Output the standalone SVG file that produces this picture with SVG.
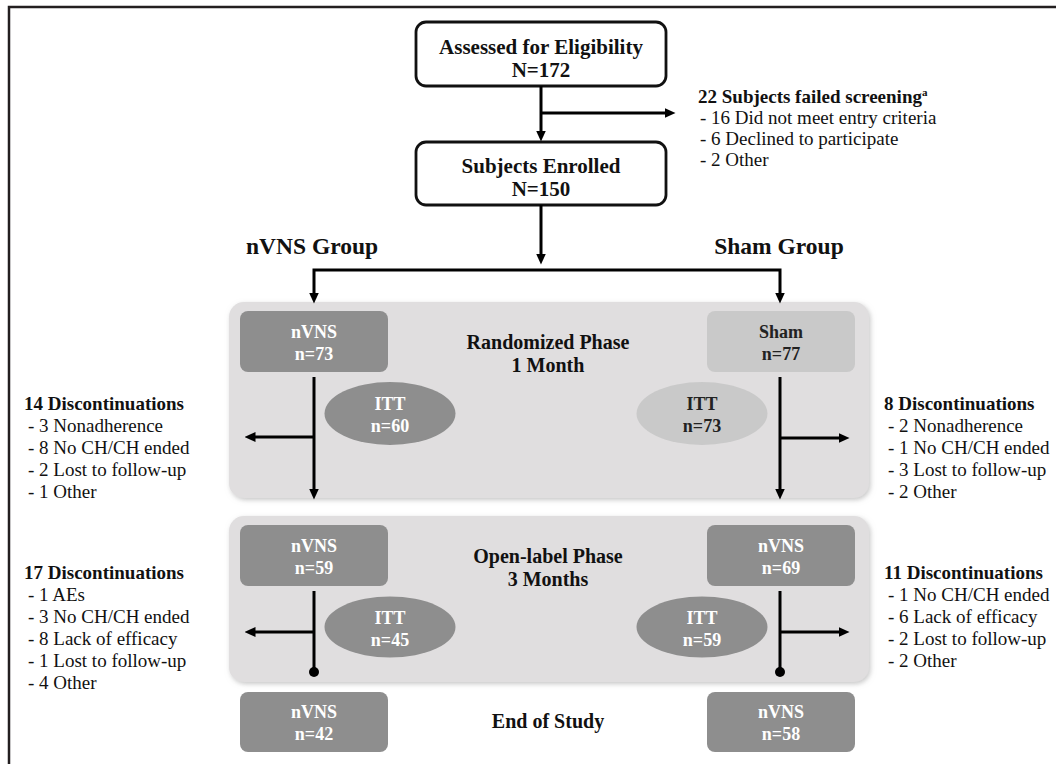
<svg xmlns="http://www.w3.org/2000/svg" width="1056" height="764" viewBox="0 0 1056 764">
<style>
text{font-family:"Liberation Serif","Times New Roman",serif;fill:#111}
.b{font-weight:bold}
.box{fill:#fff;stroke:#111;stroke-width:2.8}
.bt{font-size:21px;font-weight:bold;text-anchor:middle}
.panel{fill:#e0dedf}
.dk{fill:#8e8e8e}
.lt{fill:#c9c9c9}
.gt{font-size:18px;font-weight:bold;text-anchor:middle;fill:#fff}
.gd{font-size:18px;font-weight:bold;text-anchor:middle;fill:#222}
.grp{font-size:23.5px;font-weight:bold;text-anchor:middle}
.ph{font-size:20px;font-weight:bold;text-anchor:middle}
.s{font-size:19px}
.ln{fill:none;stroke:#000;stroke-width:3}
</style>
<defs>
<marker id="ah" viewBox="0 0 11 10" refX="0.5" refY="5" markerWidth="11" markerHeight="10" markerUnits="userSpaceOnUse" orient="auto">
<path d="M0,0 L11,5 L0,10 z" fill="#000"/>
</marker>
<filter id="sh" x="-5%" y="-10%" width="110%" height="120%">
<feDropShadow dx="1.5" dy="2" stdDeviation="2.5" flood-color="#9a9a9a" flood-opacity="0.55"/>
</filter>
</defs>
<path d="M9,764 V7 H1056" fill="none" stroke="#231f20" stroke-width="2.5"/>
<g id="panel-randomized">
<rect class="panel" x="229" y="302" width="640" height="196" rx="15" filter="url(#sh)"/>
<text class="ph" x="548" y="349">Randomized Phase</text>
<text class="ph" x="548" y="372">1 Month</text>
</g>
<g id="panel-openlabel">
<rect class="panel" x="229" y="516" width="640" height="166" rx="15" filter="url(#sh)"/>
<text class="ph" x="548" y="563">Open-label Phase</text>
<text class="ph" x="548" y="586">3 Months</text>
</g>
<g id="assessed">
<rect class="box" x="416" y="22" width="250" height="64" rx="10"/>
<text class="bt" x="541" y="54">Assessed for Eligibility</text>
<text class="bt" x="541" y="77">N=172</text>
</g>
<g id="failed">
<text class="s b" x="698" y="103">22 Subjects failed screening<tspan font-size="11" dy="-7">a</tspan></text>
<text class="s" x="700" y="124">- 16 Did not meet entry criteria</text>
<text class="s" x="700" y="145">- 6 Declined to participate</text>
<text class="s" x="700" y="166">- 2 Other</text>
</g>
<g id="enrolled">
<rect class="box" x="416" y="142" width="250" height="63" rx="10"/>
<text class="bt" x="541" y="173">Subjects Enrolled</text>
<text class="bt" x="541" y="196">N=150</text>
</g>
<g id="group-labels">
<text class="grp" x="312" y="254">nVNS Group</text>
<text class="grp" x="779" y="254">Sham Group</text>
</g>
<g id="nvns-73">
<rect class="dk" x="240" y="311" width="148" height="61" rx="8"/>
<text class="gt" x="314" y="338">nVNS</text>
<text class="gt" x="314" y="360">n=73</text>
</g>
<g id="sham-77">
<rect class="lt" x="707" y="311" width="148" height="61" rx="8"/>
<text class="gd" x="781" y="338">Sham</text>
<text class="gd" x="781" y="360">n=77</text>
</g>
<g id="itt-60">
<ellipse class="dk" cx="390" cy="413.5" rx="65.5" ry="31.5"/>
<text class="gt" x="390" y="410">ITT</text>
<text class="gt" x="390" y="432">n=60</text>
</g>
<g id="itt-73">
<ellipse class="lt" cx="702" cy="413.5" rx="65.5" ry="31.5"/>
<text class="gd" x="702" y="410">ITT</text>
<text class="gd" x="702" y="432">n=73</text>
</g>
<g id="disc-14">
<text class="s b" x="24" y="410">14 Discontinuations</text>
<text class="s" x="28" y="432">- 3 Nonadherence</text>
<text class="s" x="28" y="454">- 8 No CH/CH ended</text>
<text class="s" x="28" y="476">- 2 Lost to follow-up</text>
<text class="s" x="28" y="498">- 1 Other</text>
</g>
<g id="disc-8">
<text class="s b" x="884" y="410">8 Discontinuations</text>
<text class="s" x="888" y="432">- 2 Nonadherence</text>
<text class="s" x="888" y="454">- 1 No CH/CH ended</text>
<text class="s" x="888" y="476">- 3 Lost to follow-up</text>
<text class="s" x="888" y="498">- 2 Other</text>
</g>
<g id="nvns-59">
<rect class="dk" x="240" y="525" width="148" height="61" rx="8"/>
<text class="gt" x="314" y="552">nVNS</text>
<text class="gt" x="314" y="574">n=59</text>
</g>
<g id="nvns-69">
<rect class="dk" x="707" y="525" width="148" height="61" rx="8"/>
<text class="gt" x="781" y="552">nVNS</text>
<text class="gt" x="781" y="574">n=69</text>
</g>
<g id="itt-45">
<ellipse class="dk" cx="390" cy="627" rx="65.5" ry="30.5"/>
<text class="gt" x="390" y="624">ITT</text>
<text class="gt" x="390" y="646">n=45</text>
</g>
<g id="itt-59">
<ellipse class="dk" cx="702" cy="627" rx="65.5" ry="30.5"/>
<text class="gt" x="702" y="624">ITT</text>
<text class="gt" x="702" y="646">n=59</text>
</g>
<g id="disc-17">
<text class="s b" x="24" y="579">17 Discontinuations</text>
<text class="s" x="28" y="601">- 1 AEs</text>
<text class="s" x="28" y="623">- 3 No CH/CH ended</text>
<text class="s" x="28" y="645">- 8 Lack of efficacy</text>
<text class="s" x="28" y="667">- 1 Lost to follow-up</text>
<text class="s" x="28" y="689">- 4 Other</text>
</g>
<g id="disc-11">
<text class="s b" x="884" y="579">11 Discontinuations</text>
<text class="s" x="888" y="601">- 1 No CH/CH ended</text>
<text class="s" x="888" y="623">- 6 Lack of efficacy</text>
<text class="s" x="888" y="645">- 2 Lost to follow-up</text>
<text class="s" x="888" y="667">- 2 Other</text>
</g>
<g id="nvns-42">
<rect class="dk" x="240" y="692" width="148" height="60" rx="8"/>
<text class="gt" x="314" y="718">nVNS</text>
<text class="gt" x="314" y="740">n=42</text>
</g>
<g id="nvns-58">
<rect class="dk" x="707" y="692" width="148" height="60" rx="8"/>
<text class="gt" x="781" y="718">nVNS</text>
<text class="gt" x="781" y="740">n=58</text>
</g>
<g id="end-label">
<text class="ph" x="548" y="728">End of Study</text>
</g>
<g id="connectors">
<path class="ln" d="M541,86 V131" marker-end="url(#ah)"/>
<path class="ln" d="M541,113 H665" marker-end="url(#ah)"/>
<path class="ln" d="M541,205 V254" marker-end="url(#ah)"/>
<path class="ln" d="M541,270 H314 V293" marker-end="url(#ah)"/>
<path class="ln" d="M541,270 H780 V293" marker-end="url(#ah)"/>
<path class="ln" d="M314,377 V489" marker-end="url(#ah)"/>
<path class="ln" d="M314,437 H255" marker-end="url(#ah)"/>
<path class="ln" d="M780,377 V489" marker-end="url(#ah)"/>
<path class="ln" d="M780,438 H839" marker-end="url(#ah)"/>
<path class="ln" d="M314,591 V672"/>
<circle cx="314" cy="672" r="5" fill="#000"/>
<path class="ln" d="M314,632 H255" marker-end="url(#ah)"/>
<path class="ln" d="M780,591 V672"/>
<circle cx="780" cy="672" r="5" fill="#000"/>
<path class="ln" d="M780,632 H839" marker-end="url(#ah)"/>
</g>
</svg>
